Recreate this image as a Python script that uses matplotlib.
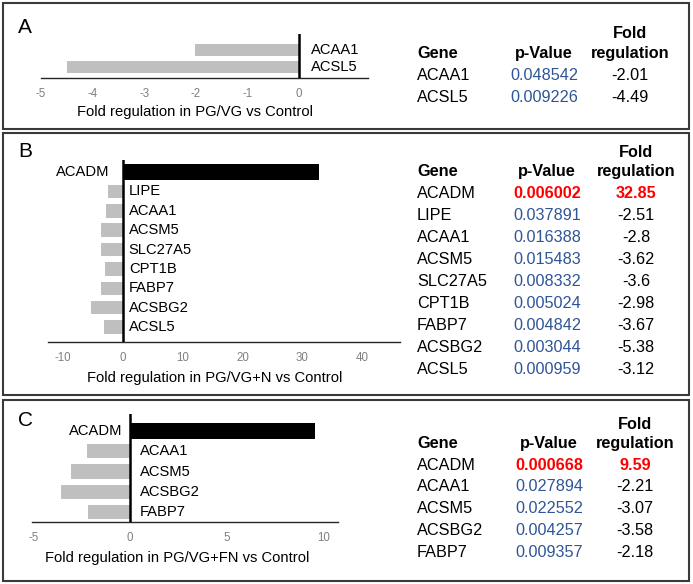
import matplotlib
matplotlib.use("Agg")
import matplotlib.pyplot as plt
from matplotlib.patches import Rectangle

plt.rcParams['font.family'] = ['Liberation Sans', 'DejaVu Sans']

# ---------------- data ----------------
genes_a = ["ACAA1", "ACSL5"]
fold_a = [-2.01, -4.49]
pval_a = ["0.048542", "0.009226"]
fold_a_txt = ["-2.01", "-4.49"]

genes_b = ["ACADM", "LIPE", "ACAA1", "ACSM5", "SLC27A5", "CPT1B", "FABP7", "ACSBG2", "ACSL5"]
fold_b = [32.85, -2.51, -2.8, -3.62, -3.6, -2.98, -3.67, -5.38, -3.12]
pval_b = ["0.006002", "0.037891", "0.016388", "0.015483", "0.008332",
          "0.005024", "0.004842", "0.003044", "0.000959"]
fold_b_txt = ["32.85", "-2.51", "-2.8", "-3.62", "-3.6", "-2.98", "-3.67", "-5.38", "-3.12"]

genes_c = ["ACADM", "ACAA1", "ACSM5", "ACSBG2", "FABP7"]
fold_c = [9.59, -2.21, -3.07, -3.58, -2.18]
pval_c = ["0.000668", "0.027894", "0.022552", "0.004257", "0.009357"]
fold_c_txt = ["9.59", "-2.21", "-3.07", "-3.58", "-2.18"]

ticks_a = [-5, -4, -3, -2, -1, 0]
ticks_b = [-10, 0, 10, 20, 30, 40]
ticks_c = [-5, 0, 5, 10]

xlabel_a = "Fold regulation in PG/VG vs Control"
xlabel_b = "Fold regulation in PG/VG+N vs Control"
xlabel_c = "Fold regulation in PG/VG+FN vs Control"

# ---------------- styling ----------------
W, H = 693, 584
DPI = 100
fig = plt.figure(figsize=(W / DPI, H / DPI), dpi=DPI)

GRAY_BAR = "#bfbfbf"
BLUE = "#2f5597"
RED = "#ff0000"
TICK_COLOR = "#808080"
BOX_COLOR = "#3a3a3a"
TABLE_FS = 11.7
LABEL_FS = 10.6


def fx(x):
    return x / W


def fy(y):
    return 1 - y / H


def box(x0, y0, x1, y1):
    fig.patches.append(Rectangle((fx(x0), fy(y1)), fx(x1) - fx(x0), fy(y0) - fy(y1),
                                 transform=fig.transFigure, fill=False,
                                 edgecolor=BOX_COLOR, linewidth=1.5))


def text_px(x, y, s, fs, ha="left", **kw):
    # y is the visual center of capital letters in pixels
    cap = 0.716 * fs * DPI / 72
    fig.text(fx(x), fy(y + cap / 2), s, fontsize=fs, ha=ha, va="baseline", **kw)


def chart(left, right, top, bottom, xlim, ylim, genes, vals, ticks,
          xlabel, xlabel_pos, neg_off, pos_off):
    ax = fig.add_axes([fx(left), fy(bottom), fx(right) - fx(left), fy(top) - fy(bottom)])
    ax.set_facecolor("none")
    pos = list(range(len(genes)))
    colors = ["black" if v > 0 else GRAY_BAR for v in vals]
    heights = [0.8 if v > 0 else 0.7 for v in vals]
    ax.barh(pos, vals, height=heights, color=colors, zorder=2)
    ax.axvline(0, color="black", linewidth=1.8, zorder=3)
    ax.set_xlim(*xlim)
    ax.set_ylim(*ylim)
    for s in ["top", "right", "left"]:
        ax.spines[s].set_visible(False)
    ax.spines["bottom"].set_color("#262626")
    ax.spines["bottom"].set_linewidth(1.0)
    ax.set_yticks([])
    ax.set_xticks(ticks)
    ax.set_xticklabels([str(t) for t in ticks], color=TICK_COLOR, fontsize=8.3)
    ax.tick_params(axis="x", length=0, pad=7)
    for p, g, v in zip(pos, genes, vals):
        if v > 0:
            ax.annotate(g, (0, p), xytext=(-pos_off, 0), textcoords="offset pixels",
                        ha="right", va="center", fontsize=LABEL_FS)
        else:
            ax.annotate(g, (0, p), xytext=(neg_off, 0), textcoords="offset pixels",
                        ha="left", va="center", fontsize=LABEL_FS)
    text_px(xlabel_pos[0], xlabel_pos[1], xlabel, LABEL_FS, ha="center")
    return ax


def table(gx, px_, fx_, fold_y, head_y, row_dy, genes, pvals, folds, highlight_first):
    text_px(fx_, fold_y, "Fold", TABLE_FS, ha="center", fontweight="bold")
    text_px(fx_, head_y, "regulation", TABLE_FS, ha="center", fontweight="bold")
    text_px(gx, head_y, "Gene", TABLE_FS, ha="left", fontweight="bold")
    text_px(px_, head_y, "p-Value", TABLE_FS, ha="center", fontweight="bold")
    for i, (g, p, f) in enumerate(zip(genes, pvals, folds)):
        y = head_y + (i + 1) * row_dy
        text_px(gx, y, g, TABLE_FS, ha="left")
        if highlight_first and i == 0:
            text_px(px_, y, p, TABLE_FS, ha="center", color=RED, fontweight="bold")
            text_px(fx_, y, f, TABLE_FS, ha="center", color=RED, fontweight="bold")
        else:
            text_px(px_, y, p, TABLE_FS, ha="center", color=BLUE)
            text_px(fx_, y, f, TABLE_FS, ha="center")


# panel boxes
box(3, 3, 689, 129)
box(3, 133, 689, 395)
box(3, 400, 689, 581)

# panel letters
text_px(18, 26, "A", 15)
text_px(18, 150, "B", 15)
text_px(18, 419, "C", 15)

# ---- Panel A ----
chart(41, 368, 34, 78, (-5, 1.34), (1.65, -0.94), genes_a, fold_a, ticks_a,
      xlabel_a, (195, 111), 12, 10)
table(417, 544, 630, 32, 52, 22, genes_a, pval_a, fold_a_txt, False)

# ---- Panel B ----
chart(48, 400, 160, 342, (-12.5, 46.3), (8.77, -0.62), genes_b, fold_b, ticks_b,
      xlabel_b, (215, 377), 6, 13)
table(417, 547, 636, 151, 170, 22, genes_b, pval_b, fold_b_txt, True)

# ---- Panel C ----
chart(32, 338, 414, 522, (-5.07, 10.76), (4.49, -0.84), genes_c, fold_c, ticks_c,
      xlabel_c, (177, 557), 10, 8)
table(417, 549, 635, 423, 442, 21.8, genes_c, pval_c, fold_c_txt, True)

fig.savefig("out.png", dpi=DPI)
